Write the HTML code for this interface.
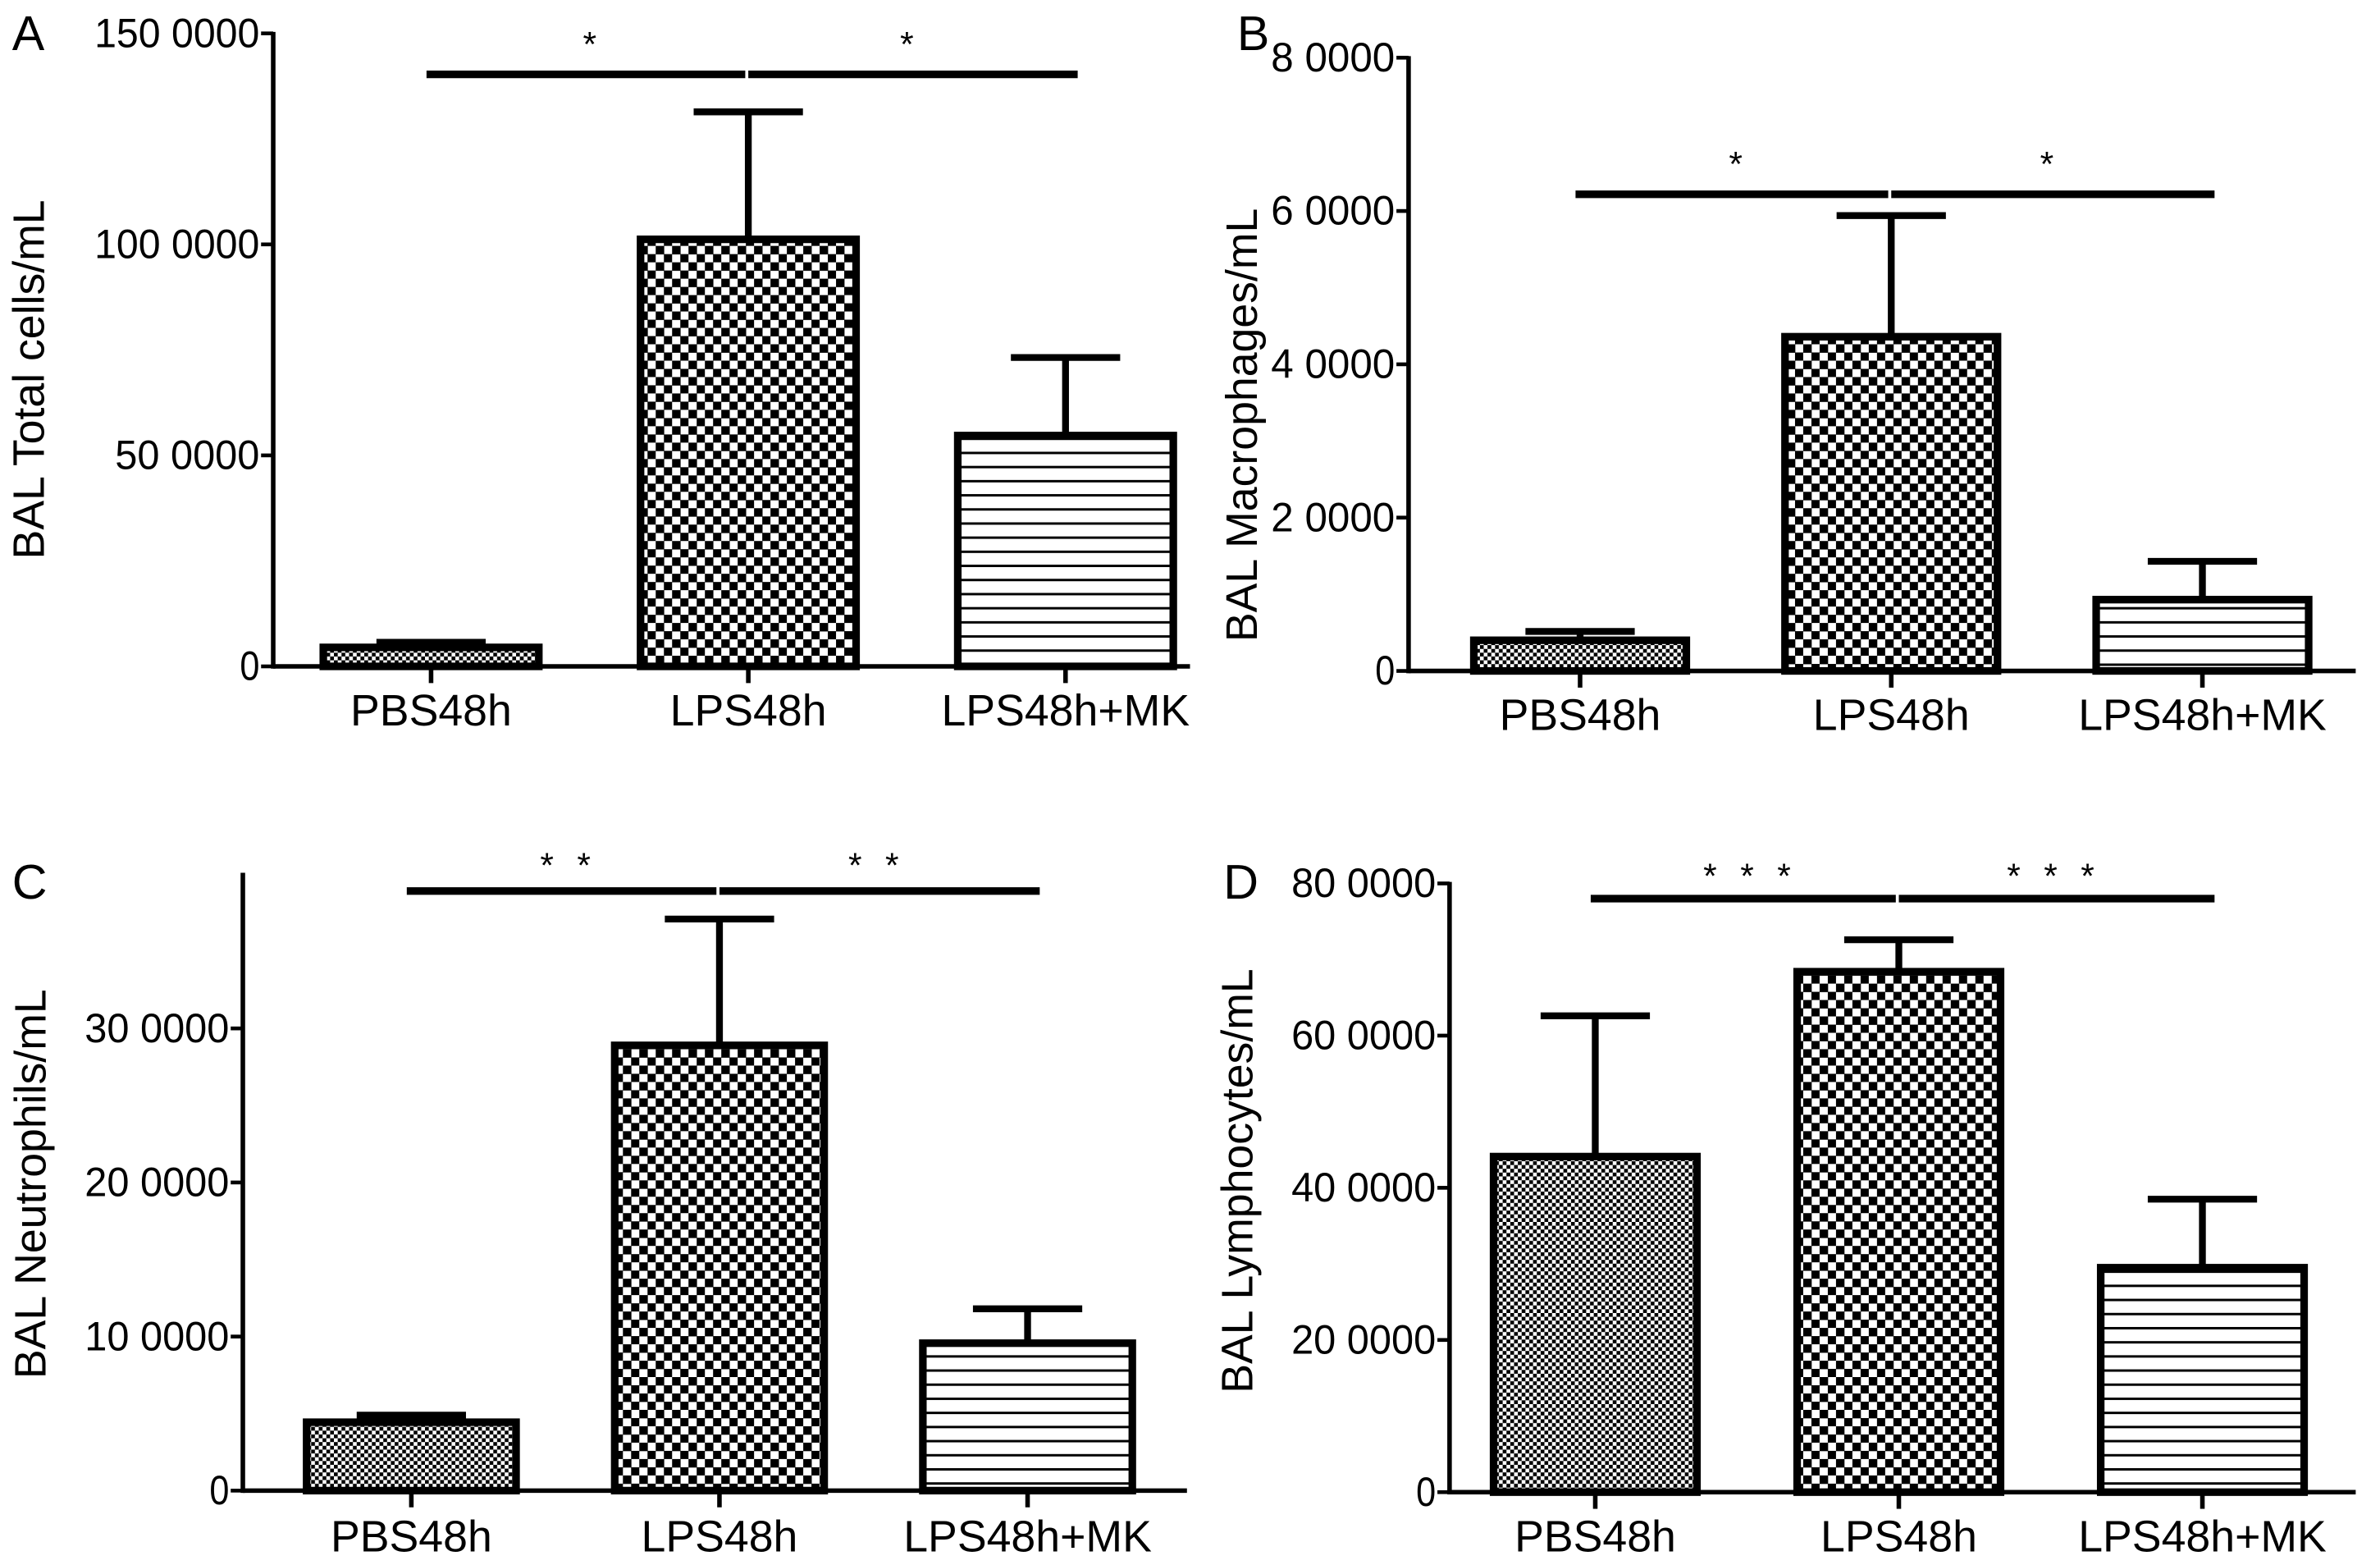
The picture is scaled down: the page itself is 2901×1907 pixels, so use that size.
<!DOCTYPE html>
<html><head><meta charset="utf-8"><style>
html,body{margin:0;padding:0;background:#fff;}
svg{display:block;}
text{font-family:"Liberation Sans",sans-serif;fill:#000;}
</style></head><body>
<svg id="fig" width="2901" height="1907" viewBox="0 0 1568 1031" preserveAspectRatio="none" xmlns="http://www.w3.org/2000/svg">
<defs>
<pattern id="fine" patternUnits="userSpaceOnUse" width="5" height="5"><rect width="5" height="5" fill="#fff"/><rect x="0" y="0" width="2.5" height="2.5" fill="#000"/><rect x="2.5" y="2.5" width="2.5" height="2.5" fill="#000"/></pattern>
<pattern id="coarse" patternUnits="userSpaceOnUse" width="10.8" height="10.8"><rect width="10.8" height="10.8" fill="#fff"/><rect x="0" y="0" width="5.6" height="5.6" fill="#000"/><rect x="5.4" y="5.4" width="5.6" height="5.6" fill="#000"/></pattern>
<pattern id="hlines" patternUnits="userSpaceOnUse" width="10" height="9.3"><rect width="10" height="9.3" fill="#fff"/><rect y="0" width="10" height="1.6" fill="#000"/></pattern>
</defs>
</svg>
<script>
const categories = ['PBS48h', 'LPS48h', 'LPS48h+MK'];
const totalMeans = [45000, 1012000, 547000];
const totalErrTops = [57000, 1314000, 732000];
const macroMeans = [4000, 43600, 9300];
const macroErrTops = [5150, 59400, 14300];
const neutroMeans = [44400, 289000, 95700];
const neutroErrTops = [49000, 371000, 118000];
const lymphoMeans = [441000, 684000, 295000];
const lymphoErrTops = [626000, 726000, 385000];
const totalTicks = [0, 500000, 1000000, 1500000];
const totalTickLabels = ['0', '50 0000', '100 0000', '150 0000'];
const macroTicks = [0, 20000, 40000, 60000, 80000];
const macroTickLabels = ['0', '2 0000', '4 0000', '6 0000', '8 0000'];
const neutroTicks = [0, 100000, 200000, 300000];
const neutroTickLabels = ['0', '10 0000', '20 0000', '30 0000'];
const lymphoTicks = [0, 200000, 400000, 600000, 800000];
const lymphoTickLabels = ['0', '20 0000', '40 0000', '60 0000', '80 0000'];
const sigA = ['*', '*'];
const sigB = ['*', '*'];
const sigC = ['* *', '* *'];
const sigD = ['* * *', '* * *'];

const NS = 'http://www.w3.org/2000/svg';
const svg = document.getElementById('fig');
function mk(tag, attrs, parent) {
  const e = document.createElementNS(NS, tag);
  for (const k in attrs) e.setAttribute(k, attrs[k]);
  (parent || svg).appendChild(e);
  return e;
}
const fills = ['url(#fine)', 'url(#coarse)', 'url(#hlines)'];

function panel(cfg) {
  const g = mk('g', {});
  
  
  const y = v => cfg.zero - (v / cfg.max) * (cfg.zero - cfg.top);
  const x = i => cfg.c0 + i * cfg.step;
  const ya = mk('line', {x1: cfg.ax, y1: cfg.top - 1, x2: cfg.ax, y2: cfg.zero + 1.5, stroke: '#000', 'stroke-width': 3}, g);
  
  
  cfg.ticks.forEach((t, i) => {
    const tk = mk('line', {x1: cfg.ax - 8, y1: y(t), x2: cfg.ax, y2: y(t), stroke: '#000', 'stroke-width': 2.5}, g);
    
    
    const tl = mk('text', {x: cfg.ax - 9, y: y(t) + 9, 'text-anchor': 'end', 'font-size': 27, textLength: cfg.tickLabels[i].length > 1 ? cfg.tickLabels[i].length * 13.6 : 13, lengthAdjust: 'spacingAndGlyphs'}, g);
    tl.textContent = cfg.tickLabels[i];
    
    
  });
  cfg.means.forEach((m, i) => {
    const cx = x(i), w = cfg.bw;
    const eb = mk('line', {x1: cx, y1: y(m), x2: cx, y2: y(cfg.errs[i]), stroke: '#000', 'stroke-width': 4.5}, g);
    
    
    const cap = mk('line', {x1: cx - 36, y1: y(cfg.errs[i]), x2: cx + 36, y2: y(cfg.errs[i]), stroke: '#000', 'stroke-width': 4.5}, g);
    
    
    const r = mk('rect', {x: cx - w / 2, y: y(m), width: w, height: cfg.zero - y(m), fill: fills[i], stroke: '#000', 'stroke-width': 5}, g);
    
    
    const xt = mk('line', {x1: cx, y1: cfg.zero, x2: cx, y2: cfg.zero + 11, stroke: '#000', 'stroke-width': 3}, g);
    
    
    const xl = mk('text', {x: cx, y: cfg.labY, 'text-anchor': 'middle', 'font-size': 29}, g);
    xl.textContent = categories[i];
    
    
  });
  const xa = mk('line', {x1: cfg.ax, y1: cfg.zero, x2: cfg.xEnd, y2: cfg.zero, stroke: '#000', 'stroke-width': 3}, g);
  
  
  [[0, 1], [1, 2]].forEach((p, k) => {
    const sl = mk('line', {x1: x(p[0]) - 3 + (k ? 3 : 0), y1: cfg.sigY, x2: x(p[1]) + (k ? 8 : -2), y2: cfg.sigY, stroke: '#000', 'stroke-width': 5}, g);
    
    
    const st = mk('text', {x: (x(p[0]) + x(p[1])) / 2, y: cfg.starY, 'text-anchor': 'middle', 'font-size': 23, 'word-spacing': 9}, g);
    st.textContent = cfg.sig[k];
    
    
  });
  const yt = mk('text', {x: 0, y: 0, 'text-anchor': 'middle', 'font-size': 29, transform: 'translate(' + cfg.titleX + ',' + cfg.titleY + ') rotate(-90)'}, g);
  yt.textContent = cfg.title;
  
  
  const pl = mk('text', {x: cfg.letX, y: cfg.letY, 'font-size': 32}, g);
  pl.textContent = cfg.letter;
  
  
}

panel({name: 'panel-a', letter: 'A', letX: 8, letY: 33, ax: 180, top: 22, zero: 439, max: 1500000,
  ticks: totalTicks, tickLabels: totalTickLabels, means: totalMeans, errs: totalErrTops,
  c0: 284, step: 209, bw: 142, xEnd: 784, labY: 478, sigY: 49, starY: 37, sig: sigA,
  title: 'BAL Total cells/mL', titleX: 29, titleY: 250});
panel({name: 'panel-b', letter: 'B', letX: 815, letY: 33, ax: 928, top: 38, zero: 442, max: 80000,
  ticks: macroTicks, tickLabels: macroTickLabels, means: macroMeans, errs: macroErrTops,
  c0: 1041, step: 205, bw: 140, xEnd: 1552, labY: 481, sigY: 128, starY: 116, sig: sigB,
  title: 'BAL Macrophages/mL', titleX: 828, titleY: 280});
panel({name: 'panel-c', letter: 'C', letX: 8, letY: 592, ax: 160, top: 576, zero: 982, max: 400000,
  ticks: neutroTicks, tickLabels: neutroTickLabels, means: neutroMeans, errs: neutroErrTops,
  c0: 271, step: 203, bw: 138, xEnd: 782, labY: 1022, sigY: 587, starY: 578, sig: sigC,
  title: 'BAL Neutrophils/mL', titleX: 30, titleY: 780});
panel({name: 'panel-d', letter: 'D', letX: 806, letY: 592, ax: 955, top: 582, zero: 983, max: 800000,
  ticks: lymphoTicks, tickLabels: lymphoTickLabels, means: lymphoMeans, errs: lymphoErrTops,
  c0: 1051, step: 200, bw: 134, xEnd: 1552, labY: 1022, sigY: 592, starY: 585, sig: sigD,
  title: 'BAL Lymphocytes/mL', titleX: 825, titleY: 778});
</script>
</body></html>
